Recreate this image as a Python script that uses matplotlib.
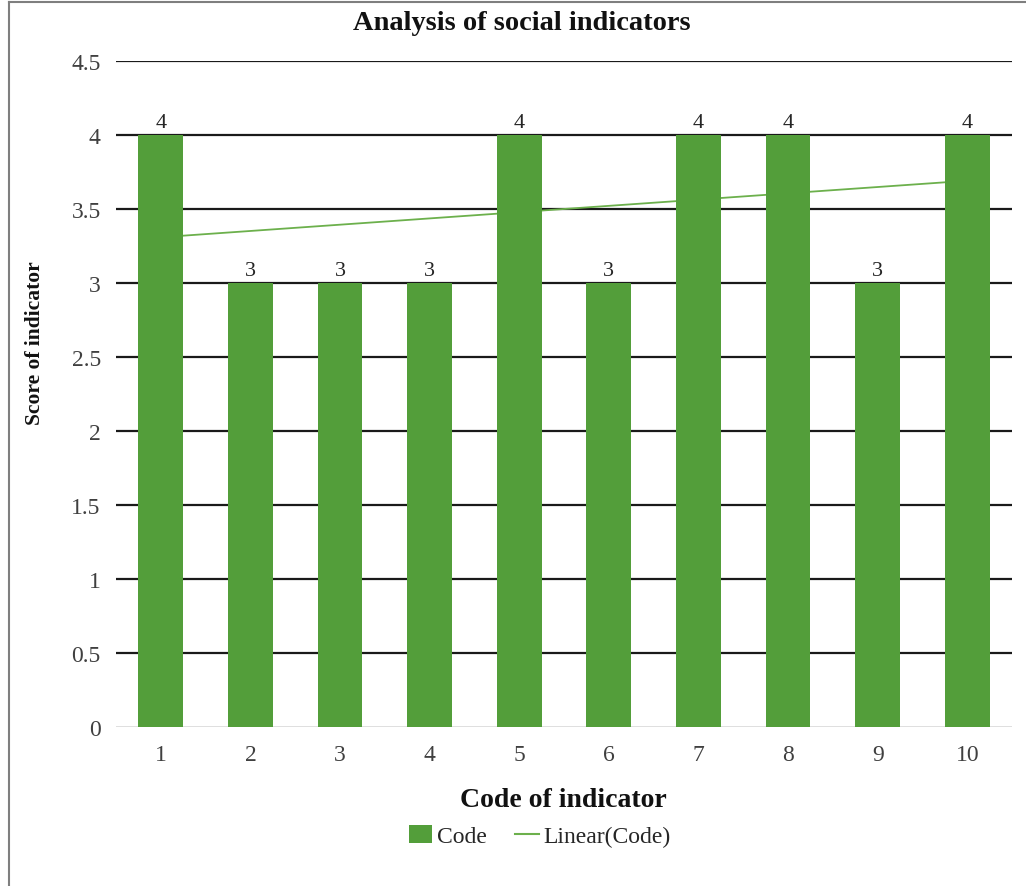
import numpy as np
import matplotlib
matplotlib.use("Agg")
import matplotlib.pyplot as plt
from matplotlib.lines import Line2D
from matplotlib.patches import Patch

codes = [1, 2, 3, 4, 5, 6, 7, 8, 9, 10]
scores = [4, 3, 3, 3, 4, 3, 4, 4, 3, 4]
y_ticks = [0, 0.5, 1, 1.5, 2, 2.5, 3, 3.5, 4, 4.5]
y_tick_labels = ["0", "0.5", "1", "1.5", "2", "2.5", "3", "3.5", "4", "4.5"]

bar_color = "#539E3A"
trend_color = "#6CB04C"
text_color = "#404040"

plt.rcParams["font.family"] = ["Liberation Serif", "DejaVu Serif"]

fig = plt.figure(figsize=(10.26, 8.87), dpi=100)
ax = fig.add_axes([0.1131, 0.1793, 0.8733, 0.7508])

# thin frame on the left and top edges of the figure
fig.add_artist(Line2D([0.0088, 0.0088], [0.0, 0.9966], transform=fig.transFigure,
                      color="#7F7F7F", linewidth=1.5))
fig.add_artist(Line2D([0.0088, 1.0], [0.9966, 0.9966], transform=fig.transFigure,
                      color="#7F7F7F", linewidth=1.5))

# horizontal gridlines
for t in y_ticks[1:]:
    ax.axhline(t, color="#1A1A1A", linewidth=1.6, zorder=1)
ax.axhline(0, color="#D9D9D9", linewidth=1.2, zorder=1)

# linear trendline drawn behind the bars
slope, intercept = np.polyfit(codes, scores, 1)
xs = np.array([codes[0], codes[-1]], dtype=float)
ax.plot(xs, slope * xs + intercept, color=trend_color, linewidth=1.3, zorder=2)

ax.bar(codes, scores, width=0.5, color=bar_color, zorder=3)

for x, v in zip(codes, scores):
    ax.text(x, v + 0.02, f"{v}", ha="center", va="bottom", fontsize=16,
            color="#262626", zorder=4)

ax.set_xlim(0.5, 10.5)
ax.set_ylim(0, 4.5)
ax.set_yticks(y_ticks)
ax.set_yticklabels(y_tick_labels)
ax.set_xticks(codes)
ax.set_xticklabels([str(c) for c in codes])
ax.tick_params(axis="both", length=0, labelsize=17, colors=text_color)
ax.tick_params(axis="y", pad=11)
ax.tick_params(axis="x", pad=12)
for s in ax.spines.values():
    s.set_visible(False)

fig.text(0.509, 0.973, "Analysis of social indicators", ha="center", va="center",
         fontsize=20.5, fontweight="bold", color="#111111")
fig.text(0.549, 0.098, "Code of indicator", ha="center", va="center",
         fontsize=20, fontweight="bold", color="#111111")
fig.text(0.034, 0.613, "Score of indicator", ha="center", va="center",
         rotation=90, fontsize=15.5, fontweight="bold", color="#111111")

handles = [Patch(facecolor=bar_color, edgecolor="none", label="Code"),
           Line2D([0], [0], color=trend_color, linewidth=1.5, label="Linear(Code)")]
fig.legend(handles=handles, loc="center", bbox_to_anchor=(0.526, 0.056), ncol=2,
           frameon=False, fontsize=17, handlelength=1.0, handleheight=0.8,
           handletextpad=0.2, columnspacing=1.2, labelcolor="#262626")

fig.savefig("out.png", dpi=100)
